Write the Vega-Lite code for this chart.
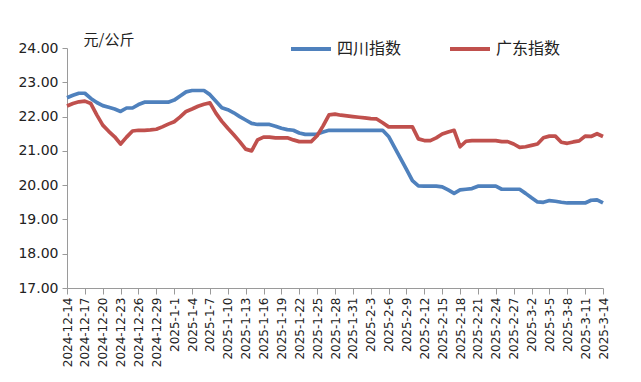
{
  "$schema": "https://vega.github.io/schema/vega-lite/v6.json",
  "autosize": "none",
  "width": 536,
  "height": 240,
  "padding": {"left": 67, "top": 48, "right": 38, "bottom": 94},
  "background": "white",
  "config": {"view": {"stroke": null}},
  "data": {
    "values": [
      {"d": "2024-12-14", "四川指数": 22.55, "广东指数": 22.31},
      {"d": "2024-12-15", "四川指数": 22.62, "广东指数": 22.38},
      {"d": "2024-12-16", "四川指数": 22.68, "广东指数": 22.43},
      {"d": "2024-12-17", "四川指数": 22.68, "广东指数": 22.45},
      {"d": "2024-12-18", "四川指数": 22.53, "广东指数": 22.38},
      {"d": "2024-12-19", "四川指数": 22.41, "广东指数": 22.05},
      {"d": "2024-12-20", "四川指数": 22.32, "广东指数": 21.75},
      {"d": "2024-12-21", "四川指数": 22.27, "广东指数": 21.57},
      {"d": "2024-12-22", "四川指数": 22.22, "广东指数": 21.41},
      {"d": "2024-12-23", "四川指数": 22.15, "广东指数": 21.2},
      {"d": "2024-12-24", "四川指数": 22.25, "广东指数": 21.4},
      {"d": "2024-12-25", "四川指数": 22.25, "广东指数": 21.58},
      {"d": "2024-12-26", "四川指数": 22.35, "广东指数": 21.6},
      {"d": "2024-12-27", "四川指数": 22.42, "广东指数": 21.6},
      {"d": "2024-12-28", "四川指数": 22.42, "广东指数": 21.61},
      {"d": "2024-12-29", "四川指数": 22.42, "广东指数": 21.63},
      {"d": "2024-12-30", "四川指数": 22.42, "广东指数": 21.7},
      {"d": "2024-12-31", "四川指数": 22.42, "广东指数": 21.78},
      {"d": "2025-1-1", "四川指数": 22.48, "广东指数": 21.85},
      {"d": "2025-1-2", "四川指数": 22.6, "广东指数": 21.99},
      {"d": "2025-1-3", "四川指数": 22.72, "广东指数": 22.15},
      {"d": "2025-1-4", "四川指数": 22.76, "广东指数": 22.22},
      {"d": "2025-1-5", "四川指数": 22.76, "广东指数": 22.3},
      {"d": "2025-1-6", "四川指数": 22.76, "广东指数": 22.36},
      {"d": "2025-1-7", "四川指数": 22.64, "广东指数": 22.4},
      {"d": "2025-1-8", "四川指数": 22.45, "广东指数": 22.1},
      {"d": "2025-1-9", "四川指数": 22.26, "广东指数": 21.86},
      {"d": "2025-1-10", "四川指数": 22.2, "广东指数": 21.66},
      {"d": "2025-1-11", "四川指数": 22.11, "广东指数": 21.47},
      {"d": "2025-1-12", "四川指数": 22.0, "广东指数": 21.27},
      {"d": "2025-1-13", "四川指数": 21.9, "广东指数": 21.05},
      {"d": "2025-1-14", "四川指数": 21.8, "广东指数": 21.0},
      {"d": "2025-1-15", "四川指数": 21.77, "广东指数": 21.32},
      {"d": "2025-1-16", "四川指数": 21.77, "广东指数": 21.4},
      {"d": "2025-1-17", "四川指数": 21.77, "广东指数": 21.4},
      {"d": "2025-1-18", "四川指数": 21.72, "广东指数": 21.38},
      {"d": "2025-1-19", "四川指数": 21.66, "广东指数": 21.38},
      {"d": "2025-1-20", "四川指数": 21.62, "广东指数": 21.38},
      {"d": "2025-1-21", "四川指数": 21.6, "广东指数": 21.32},
      {"d": "2025-1-22", "四川指数": 21.52, "广东指数": 21.27},
      {"d": "2025-1-23", "四川指数": 21.48, "广东指数": 21.27},
      {"d": "2025-1-24", "四川指数": 21.48, "广东指数": 21.27},
      {"d": "2025-1-25", "四川指数": 21.49, "广东指数": 21.44},
      {"d": "2025-1-26", "四川指数": 21.55, "广东指数": 21.73},
      {"d": "2025-1-27", "四川指数": 21.6, "广东指数": 22.05},
      {"d": "2025-1-28", "四川指数": 21.6, "广东指数": 22.07},
      {"d": "2025-1-29", "四川指数": 21.6, "广东指数": 22.04},
      {"d": "2025-1-30", "四川指数": 21.6, "广东指数": 22.02},
      {"d": "2025-1-31", "四川指数": 21.6, "广东指数": 22.0},
      {"d": "2025-2-1", "四川指数": 21.6, "广东指数": 21.98},
      {"d": "2025-2-2", "四川指数": 21.6, "广东指数": 21.96},
      {"d": "2025-2-3", "四川指数": 21.6, "广东指数": 21.94},
      {"d": "2025-2-4", "四川指数": 21.6, "广东指数": 21.93},
      {"d": "2025-2-5", "四川指数": 21.6, "广东指数": 21.82},
      {"d": "2025-2-6", "四川指数": 21.42, "广东指数": 21.7},
      {"d": "2025-2-7", "四川指数": 21.1, "广东指数": 21.7},
      {"d": "2025-2-8", "四川指数": 20.78, "广东指数": 21.7},
      {"d": "2025-2-9", "四川指数": 20.46, "广东指数": 21.7},
      {"d": "2025-2-10", "四川指数": 20.13, "广东指数": 21.7},
      {"d": "2025-2-11", "四川指数": 19.98, "广东指数": 21.35},
      {"d": "2025-2-12", "四川指数": 19.97, "广东指数": 21.3},
      {"d": "2025-2-13", "四川指数": 19.97, "广东指数": 21.3},
      {"d": "2025-2-14", "四川指数": 19.97, "广东指数": 21.38},
      {"d": "2025-2-15", "四川指数": 19.95, "广东指数": 21.49},
      {"d": "2025-2-16", "四川指数": 19.86, "广东指数": 21.55},
      {"d": "2025-2-17", "四川指数": 19.76, "广东指数": 21.6},
      {"d": "2025-2-18", "四川指数": 19.86, "广东指数": 21.12},
      {"d": "2025-2-19", "四川指数": 19.88, "广东指数": 21.28},
      {"d": "2025-2-20", "四川指数": 19.9, "广东指数": 21.3},
      {"d": "2025-2-21", "四川指数": 19.97, "广东指数": 21.3},
      {"d": "2025-2-22", "四川指数": 19.97, "广东指数": 21.3},
      {"d": "2025-2-23", "四川指数": 19.97, "广东指数": 21.3},
      {"d": "2025-2-24", "四川指数": 19.97, "广东指数": 21.3},
      {"d": "2025-2-25", "四川指数": 19.88, "广东指数": 21.27},
      {"d": "2025-2-26", "四川指数": 19.88, "广东指数": 21.27},
      {"d": "2025-2-27", "四川指数": 19.88, "广东指数": 21.2},
      {"d": "2025-2-28", "四川指数": 19.88, "广东指数": 21.1},
      {"d": "2025-3-1", "四川指数": 19.76, "广东指数": 21.12},
      {"d": "2025-3-2", "四川指数": 19.63, "广东指数": 21.16},
      {"d": "2025-3-3", "四川指数": 19.51, "广东指数": 21.2},
      {"d": "2025-3-4", "四川指数": 19.5, "广东指数": 21.38},
      {"d": "2025-3-5", "四川指数": 19.55, "广东指数": 21.43},
      {"d": "2025-3-6", "四川指数": 19.53, "广东指数": 21.43},
      {"d": "2025-3-7", "四川指数": 19.5, "广东指数": 21.25},
      {"d": "2025-3-8", "四川指数": 19.48, "广东指数": 21.22},
      {"d": "2025-3-9", "四川指数": 19.48, "广东指数": 21.26},
      {"d": "2025-3-10", "四川指数": 19.48, "广东指数": 21.29},
      {"d": "2025-3-11", "四川指数": 19.48, "广东指数": 21.43},
      {"d": "2025-3-12", "四川指数": 19.56, "广东指数": 21.42},
      {"d": "2025-3-13", "四川指数": 19.57, "广东指数": 21.5},
      {"d": "2025-3-14", "四川指数": 19.48, "广东指数": 21.42}
    ]
  },
  "transform": [
    {"fold": ["四川指数", "广东指数"], "as": ["series", "value"]}
  ],
  "mark": {"type": "line", "strokeWidth": 3.7, "strokeJoin": "round", "strokeCap": "butt"},
  "encoding": {
    "x": {
      "field": "d",
      "type": "ordinal",
      "sort": null,
      "scale": {"type": "point", "padding": 0},
      "axis": {
        "title": null,
        "values": ["2024-12-14","2024-12-17","2024-12-20","2024-12-23","2024-12-26","2024-12-29","2025-1-1","2025-1-4","2025-1-7","2025-1-10","2025-1-13","2025-1-16","2025-1-19","2025-1-22","2025-1-25","2025-1-28","2025-1-31","2025-2-3","2025-2-6","2025-2-9","2025-2-12","2025-2-15","2025-2-18","2025-2-21","2025-2-24","2025-2-27","2025-3-2","2025-3-5","2025-3-8","2025-3-11","2025-3-14"],
        "labelAngle": -90,
        "labelFont": "DejaVu Sans",
        "labelFontSize": 12,
        "labelColor": "#222222",
        "labelPadding": 3,
        "domainColor": "#9a9a9a",
        "tickColor": "#9a9a9a",
        "tickSize": 6,
        "grid": false
      }
    },
    "y": {
      "field": "value",
      "type": "quantitative",
      "scale": {"domain": [17, 24], "zero": false, "nice": false},
      "axis": {
        "values": [17, 18, 19, 20, 21, 22, 23, 24],
        "format": ".2f",
        "labelFont": "DejaVu Sans",
        "labelFontSize": 14,
        "labelColor": "#222222",
        "labelPadding": 4,
        "domainColor": "#9a9a9a",
        "tickColor": "#9a9a9a",
        "tickSize": 5,
        "grid": false,
        "title": "元/公斤",
        "titleAngle": 0,
        "titleX": 16,
        "titleY": -9,
        "titleAlign": "left",
        "titleBaseline": "middle",
        "titleFont": "Noto Sans CJK SC",
        "titleFontSize": 15,
        "titleFontWeight": "normal",
        "titleColor": "#222222"
      }
    },
    "color": {
      "field": "series",
      "type": "nominal",
      "sort": ["四川指数", "广东指数"],
      "scale": {"domain": ["四川指数", "广东指数"], "range": ["#4F81BD", "#C0504D"]},
      "legend": {
        "title": null,
        "orient": "none",
        "legendX": 222,
        "legendY": -21,
        "direction": "horizontal",
        "symbolType": "stroke",
        "symbolSize": 1600,
        "symbolStrokeWidth": 4,
        "labelFont": "Noto Sans CJK SC",
        "labelFontSize": 16,
        "labelColor": "#222222",
        "labelOffset": 4,
        "columnPadding": 40
      }
    }
  }
}
